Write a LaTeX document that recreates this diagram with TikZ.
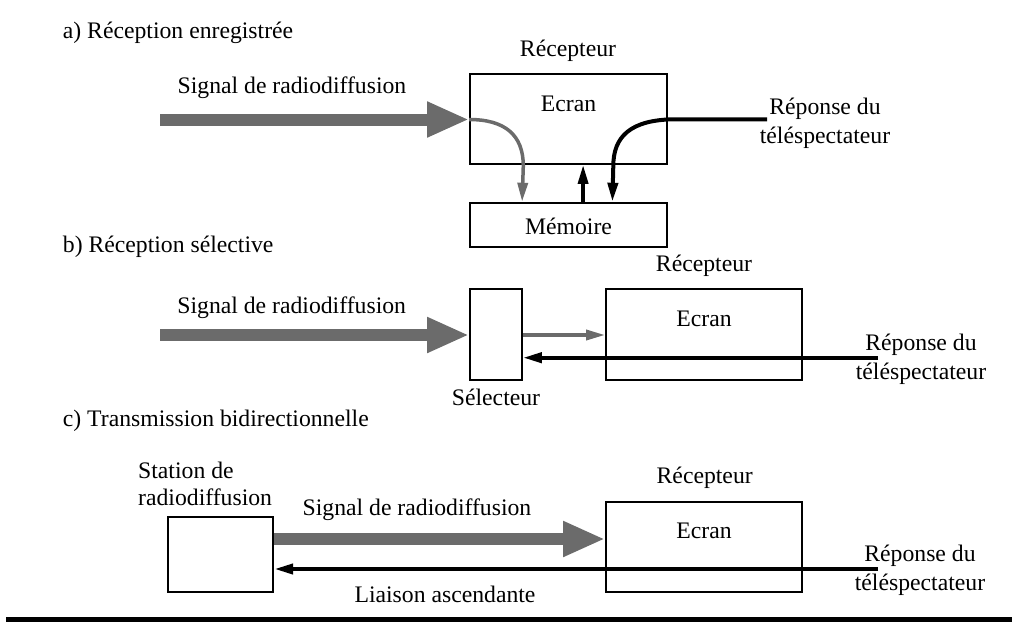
\documentclass[tikz,border=0pt]{standalone}
\usepackage{fontspec}
\setmainfont{Liberation Serif}
\usetikzlibrary{arrows.meta,calc}
\definecolor{sig}{RGB}{107,107,107}
\begin{document}
\begin{tikzpicture}[x=1pt,y=-1pt,
  txt/.style={inner sep=0pt, anchor=base, font=\fontsize{23.7}{28}\selectfont},
  head/.style={txt, anchor=base west},
  box/.style={draw=black, line width=1.8pt, inner sep=0pt},
  broad/.style={draw=sig, line width=12pt, -{Triangle[length=42pt,width=33pt]}},
  thin/.style={draw=sig, line width=3.5pt, -{Triangle[length=19pt,width=10pt]}},
  reply/.style={draw=black, line width=4pt, -{Triangle[length=19pt,width=10pt]}},
  rule/.style={draw=black, line width=5pt},
]
\useasboundingbox (0,0) rectangle (1018,627);

% ---- a) recorded reception
\node[head] (headA) at (62.7,38.3) {a) Réception enregistrée};
\node[txt] (recA) at (568,56) {Récepteur};
\node[txt] (sigA) at (292,93.3) {Signal de radiodiffusion};
\node[box, minimum width=197pt, minimum height=90pt] (ecranA) at (568.5,119) {};
\node[txt] (ecranAt) at (568.5,111) {Ecran};
\node[box, minimum width=197pt, minimum height=44.6pt] (memA) at (568.5,225) {};
\node[txt] (memAt) at (568.5,234) {Mémoire};
\node[txt] (repA1) at (825,114) {Réponse du};
\node[txt] (repA2) at (825,143.3) {téléspectateur};
\coordinate (srcA) at (160,119.5);
\coordinate (ansA) at (767,119.3);

\draw[broad] (srcA) -- (ecranA.west |- srcA);
\draw[thin] (ecranA.west |- srcA) .. controls (505,119.5) and (523.3,135) .. (523.3,166)
  -- ($(memA.north west)+(53,0)$);
\draw[reply, line width=3.6pt] ($(memA.north west)+(114,0)$) -- ($(ecranA.south west)+(114,0)$);
\draw[reply] (ansA) -- (676,119.3) .. controls (630,119.3) and (613.3,137) .. (613.3,166)
  -- ($(memA.north west)+(143.3,0)$);

% ---- b) selective reception
\node[head] (headB) at (62.7,252.7) {b) Réception sélective};
\node[txt] (recB) at (704,271.7) {Récepteur};
\node[txt] (sigB) at (291.7,313.3) {Signal de radiodiffusion};
\node[box, minimum width=52pt, minimum height=91pt] (selB) at (496,334.5) {};
\node[box, minimum width=196pt, minimum height=91pt] (ecranB) at (704,334.5) {};
\node[txt] (ecranBt) at (704,326) {Ecran};
\node[txt] (selBt) at (496,405) {Sélecteur};
\node[txt] (repB1) at (921,350.7) {Réponse du};
\node[txt] (repB2) at (921,379) {téléspectateur};
\coordinate (srcB) at (160,335);
\coordinate (ansB) at (878,357.7);

\draw[broad] (srcB) -- (selB.west |- srcB);
\draw[thin] (selB.east |- srcB) -- (ecranB.west |- srcB);
\draw[reply] (ansB) -- (selB.east |- ansB);

% ---- c) two-way transmission
\node[head] (headC) at (62.7,426.7) {c) Transmission bidirectionnelle};
\node[head] (stat1) at (138,478.3) {Station de};
\node[head] (stat2) at (138,505.5) {radiodiffusion};
\node[box, minimum width=105.6pt, minimum height=75pt] (station) at (220.5,554.6) {};
\node[txt] (recC) at (704.7,483.3) {Récepteur};
\node[box, minimum width=196pt, minimum height=90.3pt] (ecranC) at (704,546.9) {};
\node[txt] (ecranCt) at (704,538.5) {Ecran};
\node[txt] (sigC) at (417,515) {Signal de radiodiffusion};
\node[txt] (liaison) at (445,602) {Liaison ascendante};
\node[txt] (repC1) at (920,561.7) {Réponse du};
\node[txt] (repC2) at (920,590) {téléspectateur};
\coordinate (lvlC) at (0,539);
\coordinate (ansC) at (878,569);

\draw[broad] (station.east |- lvlC) -- (ecranC.west |- lvlC);
\draw[reply] (ansC) -- (station.east |- ansC);

% ---- closing rule
\coordinate (ruleL) at (6,619.5);
\coordinate (ruleR) at (1012,619.5);
\draw[rule] (ruleL) -- (ruleR);
\end{tikzpicture}
\end{document}
